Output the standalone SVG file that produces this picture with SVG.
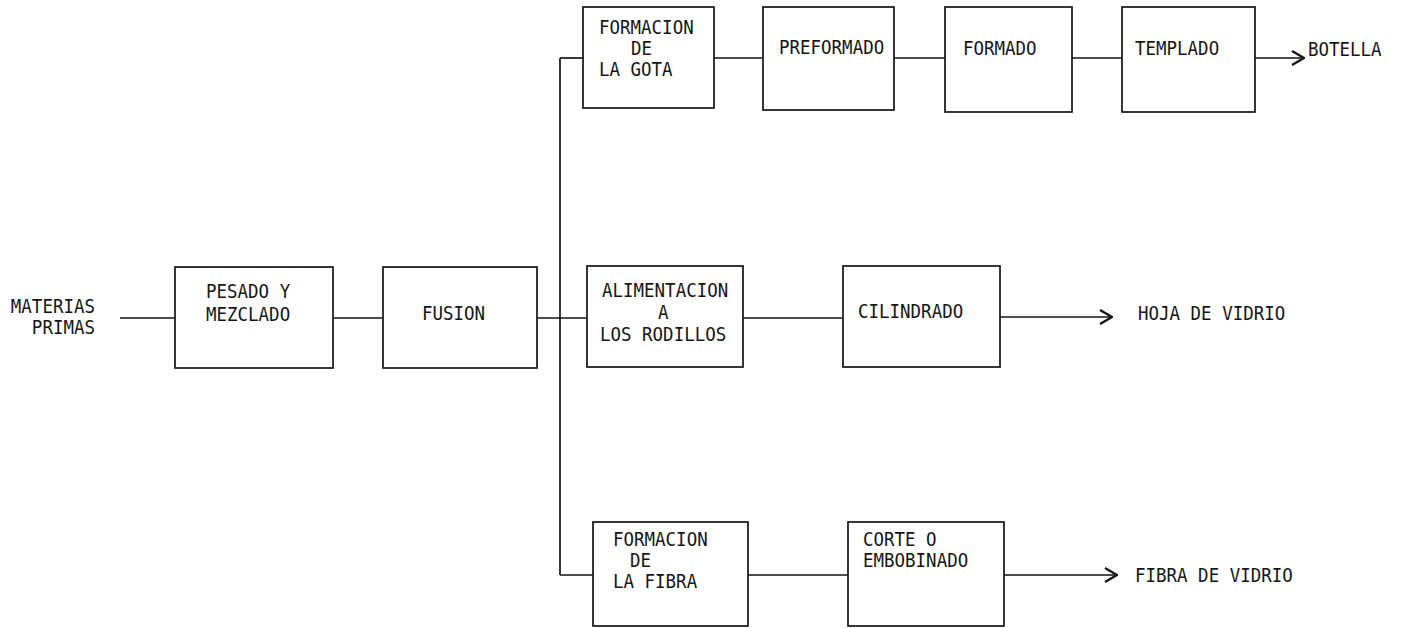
<svg xmlns="http://www.w3.org/2000/svg" width="1402" height="628" viewBox="0 0 1402 628">
<defs>
<style>
.box{fill:none;stroke:#151515;stroke-width:1.7}
.ln{fill:none;stroke:#151515;stroke-width:1.7}
text{font-family:"DejaVu Sans Mono","Liberation Mono",monospace;font-size:19px;fill:#151515}
</style>
<marker id="arr" viewBox="0 0 14 16" refX="13" refY="8" markerWidth="14" markerHeight="16" markerUnits="userSpaceOnUse" orient="auto">
<path d="M1,1 L13,8 L1,15" fill="none" stroke="#151515" stroke-width="2.4"/>
</marker>
</defs>
<rect width="1402" height="628" fill="#fff"/>
<g id="connectors">
<line class="ln" x1="120" y1="318" x2="175" y2="318"/>
<line class="ln" x1="333" y1="318" x2="383" y2="318"/>
<line class="ln" x1="537" y1="318" x2="587" y2="318"/>
<line class="ln" x1="560" y1="58" x2="560" y2="575"/>
<line class="ln" x1="560" y1="58" x2="583" y2="58"/>
<line class="ln" x1="560" y1="575" x2="593" y2="575"/>
<line class="ln" x1="714" y1="58" x2="763" y2="58"/>
<line class="ln" x1="894" y1="58" x2="945" y2="58"/>
<line class="ln" x1="1072" y1="58" x2="1122" y2="58"/>
<line class="ln" x1="1255" y1="58" x2="1304" y2="58" marker-end="url(#arr)"/>
<line class="ln" x1="743" y1="318" x2="843" y2="318"/>
<line class="ln" x1="1000" y1="317" x2="1112" y2="317" marker-end="url(#arr)"/>
<line class="ln" x1="748" y1="575" x2="848" y2="575"/>
<line class="ln" x1="1004" y1="575" x2="1117" y2="575" marker-end="url(#arr)"/>
</g>
<g id="materias">
<text transform="translate(95,313) scale(0.92,1)" text-anchor="end">MATERIAS</text>
<text transform="translate(95,334) scale(0.92,1)" text-anchor="end">PRIMAS</text>
</g>
<g id="pesado">
<rect class="box" x="175" y="267" width="158" height="101"/>
<text transform="translate(206,298) scale(0.92,1)">PESADO Y</text>
<text transform="translate(206,321) scale(0.92,1)">MEZCLADO</text>
</g>
<g id="fusion">
<rect class="box" x="383" y="267" width="154" height="101"/>
<text transform="translate(422,320) scale(0.92,1)">FUSION</text>
</g>
<g id="gota">
<rect class="box" x="583" y="7" width="131" height="101"/>
<text transform="translate(599,34) scale(0.92,1)">FORMACION</text>
<text transform="translate(631,55) scale(0.92,1)">DE</text>
<text transform="translate(599,76) scale(0.92,1)">LA GOTA</text>
</g>
<g id="preformado">
<rect class="box" x="763" y="7" width="131" height="103"/>
<text transform="translate(779,54) scale(0.92,1)">PREFORMADO</text>
</g>
<g id="formado">
<rect class="box" x="945" y="7" width="127" height="105"/>
<text transform="translate(963,55) scale(0.92,1)">FORMADO</text>
</g>
<g id="templado">
<rect class="box" x="1122" y="7" width="133" height="105"/>
<text transform="translate(1135,55) scale(0.92,1)">TEMPLADO</text>
</g>
<g id="botella">
<text transform="translate(1308,56) scale(0.92,1)">BOTELLA</text>
</g>
<g id="alimentacion">
<rect class="box" x="587" y="266" width="156" height="101"/>
<text transform="translate(602,297) scale(0.92,1)">ALIMENTACION</text>
<text transform="translate(658,319) scale(0.92,1)">A</text>
<text transform="translate(600,341) scale(0.92,1)">LOS RODILLOS</text>
</g>
<g id="cilindrado">
<rect class="box" x="843" y="266" width="157" height="101"/>
<text transform="translate(858,318) scale(0.92,1)">CILINDRADO</text>
</g>
<g id="hoja">
<text transform="translate(1138,320) scale(0.92,1)">HOJA DE VIDRIO</text>
</g>
<g id="fibra-form">
<rect class="box" x="593" y="522" width="155" height="104"/>
<text transform="translate(613,546) scale(0.92,1)">FORMACION</text>
<text transform="translate(630,567) scale(0.92,1)">DE</text>
<text transform="translate(613,588) scale(0.92,1)">LA FIBRA</text>
</g>
<g id="corte">
<rect class="box" x="848" y="522" width="156" height="104"/>
<text transform="translate(863,546) scale(0.92,1)">CORTE O</text>
<text transform="translate(863,567) scale(0.92,1)">EMBOBINADO</text>
</g>
<g id="fibra-vidrio">
<text transform="translate(1135,582) scale(0.92,1)">FIBRA DE VIDRIO</text>
</g>
</svg>
